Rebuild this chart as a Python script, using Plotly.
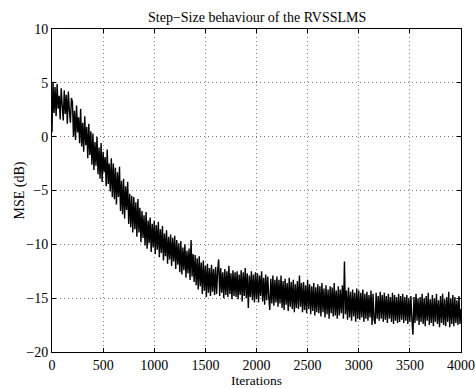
import plotly.graph_objects as go

# Iteration index of each sampled MSE value (one sample every 10 iterations)
iterations = list(range(0, 4001, 10))

# MSE (dB), 20 samples per row (200 iterations per row)
mse_db = [
    0.4, 5.1, 2.2, 4.6, 1.9, 4.9, 2.6, 3.8, 1.6, 4.5, 2.9, 1.5, 4.3, 2.1, 3.9, 1.2, 4.2, 2.4, 1.3, 3.6,
    3.2, 0.0, 2.4, -0.3, 2.9, 0.4, 1.8, -0.6, 2.6, -0.9, 1.3, -1.4, 1.9, -0.8, 0.9, -2.0, 1.2, -1.7, 0.5, -2.6,
    0.3, -3.1, -0.5, -2.7, 0.0, -3.5, -1.0, -3.9, -0.6, -4.2, -1.4, -3.3, -1.9, -4.6, -1.2, -4.4, -2.5, -5.1, -2.0, -5.6,
    -2.5, -5.8, -2.9, -6.3, -3.3, -5.6, -2.8, -6.9, -4.1, -7.2, -3.9, -7.6, -4.6, -6.8, -4.2, -8.1, -5.3, -8.4, -5.5, -8.9,
    -5.6, -8.6, -6.1, -9.3, -5.8, -8.9, -6.6, -9.8, -6.9, -9.4, -7.3, -10.1, -7.0, -10.4, -7.8, -9.9, -7.5, -10.7, -8.1, -10.3,
    -7.8, -10.9, -8.2, -10.5, -7.9, -11.2, -8.6, -10.8, -8.3, -11.5, -9.0, -11.1, -8.7, -11.8, -9.3, -11.4, -9.1, -12.0, -9.4, -11.6,
    -9.2, -12.3, -9.6, -11.9, -9.9, -12.6, -9.7, -12.8, -10.3, -12.4, -10.0, -13.1, -10.6, -12.7, -10.4, -13.3, -9.6, -13.0, -10.9, -13.5,
    -11.0, -13.8, -11.3, -14.2, -11.1, -13.9, -11.7, -14.6, -11.5, -14.3, -12.0, -14.9, -11.8, -14.5, -12.2, -14.8, -11.9, -14.4, -12.3, -14.7,
    -12.1, -14.6, -12.4, -11.4, -14.8, -12.2, -14.5, -12.6, -15.0, -12.3, -14.7, -12.5, -14.9, -12.0, -14.6, -12.7, -15.1, -12.4, -14.8, -12.6,
    -14.9, -12.5, -15.1, -12.8, -14.7, -12.4, -15.3, -12.6, -14.8, -12.2, -15.0, -12.7, -15.9, -12.9, -14.9, -12.5, -15.2, -12.8, -15.4, -12.6,
    -15.1, -12.7, -15.4, -12.9, -14.8, -12.5, -15.3, -13.1, -15.6, -12.8, -15.2, -13.0, -14.9, -16.1, -13.2, -15.5, -12.9, -15.7, -13.3, -15.4,
    -13.0, -15.8, -13.3, -15.5, -12.9, -15.9, -13.4, -16.1, -13.2, -15.6, -13.6, -16.2, -13.1, -15.8, -13.5, -16.0, -13.3, -16.3, -13.7, -15.9,
    -13.4, -16.0, -12.9, -15.8, -13.6, -16.3, -13.5, -16.1, -13.8, -16.4, -13.3, -16.0, -13.7, -16.5, -13.9, -16.2, -13.6, -16.6, -14.0, -16.3,
    -13.7, -16.4, -13.9, -16.7, -13.6, -16.3, -14.1, -16.8, -13.8, -16.5, -14.2, -16.9, -13.9, -16.4, -14.0, -16.7, -13.6, -16.6, -14.3, -16.9,
    -13.9, -16.6, -14.2, -16.4, -13.8, -16.9, -11.6, -16.5, -14.3, -17.0, -14.0, -16.8, -14.4, -17.1, -14.2, -16.7, -14.5, -17.2, -14.1, -16.9,
    -14.3, -17.0, -14.5, -16.8, -14.2, -17.2, -14.6, -16.9, -14.4, -17.1, -14.7, -16.8, -14.3, -17.5, -14.6, -17.0, -17.4, -14.5, -16.9, -14.8,
    -17.1, -14.4, -16.9, -14.7, -17.2, -14.5, -17.0, -14.8, -17.3, -14.6, -16.9, -14.9, -17.2, -14.5, -17.4, -14.7, -17.1, -14.9, -17.3, -14.6,
    -17.2, -14.8, -17.0, -14.6, -17.3, -14.9, -17.1, -14.7, -17.4, -15.0, -17.2, -14.8, -17.0, -18.4, -14.9, -17.3, -14.6, -17.1, -15.0, -17.5,
    -14.9, -17.2, -14.6, -17.4, -15.0, -17.6, -14.8, -17.1, -14.5, -17.5, -15.1, -17.3, -14.7, -17.6, -15.0, -17.2, -14.6, -17.4, -15.2, -17.7,
    -14.8, -17.3, -14.6, -17.5, -15.1, -17.6, -14.9, -17.2, -14.4, -17.7, -15.0, -17.4, -14.7, -17.6, -14.9, -17.3, -15.2, -17.5, -14.8, -17.4,
    -16.0,
]

x_ticks = [0, 500, 1000, 1500, 2000, 2500, 3000, 3500, 4000]
y_ticks = [-20, -15, -10, -5, 0, 5, 10]

title_text = "Step\u2212Size behaviour of the RVSSLMS"
x_label = "Iterations"
y_label = "MSE (dB)"

FONT = "Liberation Serif, Times New Roman, serif"

fig = go.Figure()
fig.add_trace(go.Scatter(
    x=iterations, y=mse_db, mode="lines",
    line=dict(color="black", width=1.4, simplify=False),
    showlegend=False, hoverinfo="skip",
))

axis_common = dict(
    showline=True, linecolor="black", linewidth=1, mirror="ticks",
    ticks="inside", ticklen=4, tickcolor="black", tickwidth=1,
    showgrid=True, gridcolor="#777777", griddash="1px,3px", gridwidth=1,
    zeroline=False, tickfont=dict(family=FONT, size=14, color="black"),
)

fig.update_layout(
    width=475, height=388,
    margin=dict(l=52, r=14, t=29, b=36, autoexpand=False),
    paper_bgcolor="white", plot_bgcolor="white",
    font=dict(family=FONT, color="black"),
    xaxis=dict(range=[0, 4000], tickvals=x_ticks, ticktext=[str(v) for v in x_ticks],
               ticklabelstandoff=0, **axis_common),
    yaxis=dict(range=[-20, 10], tickvals=y_ticks, ticklabelstandoff=0, **axis_common),
    annotations=[
        dict(text=title_text, xref="paper", yref="paper", x=0.5, y=1, yshift=12,
             xanchor="center", yanchor="middle", showarrow=False,
             font=dict(family=FONT, size=14, color="black")),
        dict(text=x_label, xref="paper", yref="paper", x=0.5, y=0, yshift=-28,
             xanchor="center", yanchor="middle", showarrow=False,
             font=dict(family=FONT, size=13.5, color="black")),
        dict(text=y_label, xref="paper", yref="paper", x=0, xshift=-33, y=0.5,
             xanchor="center", yanchor="middle", textangle=-90, showarrow=False,
             font=dict(family=FONT, size=14, color="black")),
    ],
)

fig.write_html("out.html")
